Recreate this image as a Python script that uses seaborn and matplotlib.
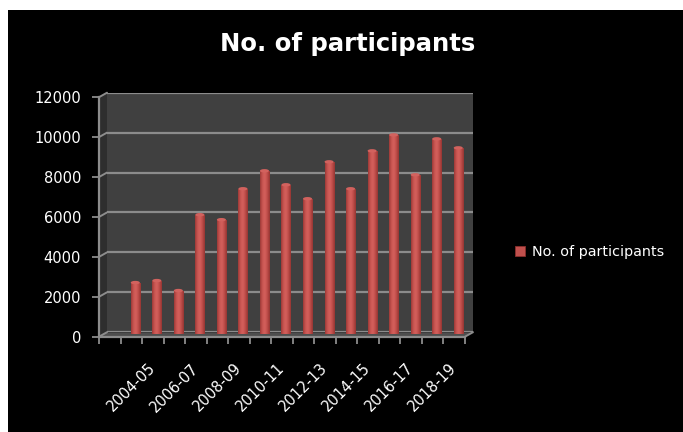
import numpy as np
import pandas as pd
import matplotlib
matplotlib.use("Agg")
import matplotlib.pyplot as plt
import seaborn as sns
from matplotlib.colors import LinearSegmentedColormap
from matplotlib.patches import Polygon, Rectangle, Patch, Ellipse
from matplotlib.lines import Line2D
from matplotlib.transforms import ScaledTranslation

# ---- data -------------------------------------------------------------
categories = [" ", "2003-04", "2004-05", "2005-06", "2006-07", "2007-08",
              "2008-09", "2009-10", "2010-11", "2011-12", "2012-13",
              "2013-14", "2014-15", "2015-16", "2016-17", "2017-18",
              "2018-19"]
years = categories[1:]
participants = [2600, 2700, 2200, 6000, 5750, 7300, 8200, 7500,
                6800, 8650, 7300, 9200, 10000, 8000, 9800, 9350]
y_ticks = [0, 2000, 4000, 6000, 8000, 10000, 12000]
series_name = "No. of participants"
title = "No. of participants"

df = pd.DataFrame({"year": years, "value": participants})

# ---- figure -----------------------------------------------------------
W, H, DPI = 683, 432, 100
sns.set_theme(style="dark")
plt.rcParams["font.family"] = ["DejaVu Sans"]
fig = plt.figure(figsize=(W / DPI, H / DPI), dpi=DPI, facecolor="black")

def fx(px):
    return px / W

def fy(py):
    return 1 - py / H

# front plane of the pseudo-3D plot box (pixels, y from top)
FL, FR, FB, FT = 99.0, 465.0, 336.7, 97.2
DX, DY = 8.0, 4.5          # depth offset of the back wall
BL, BR, BB, BT = FL + DX, FR + DX, FB - DY, FT - DY
ymax = y_ticks[-1]
grid_col = "#8c8c8c"

# back wall carrying the gridlines and the bars
ax = fig.add_axes([fx(BL), fy(BB), fx(BR - BL), (BB - BT) / H], zorder=1)
ax.set_facecolor("#404040")

sns.barplot(data=df, x="year", y="value", order=categories, ax=ax,
            color="#c0504d", width=0.42, errorbar=None, saturation=1,
            label=series_name)

# bars stand at mid-depth: shift them half the depth offset
half = ScaledTranslation(-DX / 2 / DPI, -DY / 2 / DPI, fig.dpi_scale_trans)
cyl = LinearSegmentedColormap.from_list(
    "cyl", ["#983835", "#bd4d4a", "#cf5b57", "#d3605c", "#c65350", "#b04441", "#923532"])
grad = np.linspace(0, 1, 64).reshape(1, -1)
for p in list(ax.patches):
    h = p.get_height()
    if not np.isfinite(h) or h == 0:
        continue
    p.set_transform(ax.transData + half)
    p.set_clip_on(False)
    p.set_edgecolor("none")
    x0, w = p.get_x(), p.get_width()
    im = ax.imshow(grad, extent=(x0, x0 + w, 0, h), cmap=cyl, aspect="auto",
                   transform=ax.transData + half, zorder=3, interpolation="bicubic")
    im.set_clip_box(None)
    im.set_clip_path(p)
    # rounded cap on top of the cylinder
    cap = Ellipse((x0 + w / 2, h), w, 170, facecolor="#d2625e",
                  edgecolor="none", transform=ax.transData + half,
                  zorder=3.5, clip_on=False)
    ax.add_patch(cap)

ax.set_xlim(-0.5, len(categories) - 0.5)
ax.set_ylim(0, ymax)
ax.set_yticks(y_ticks)
ax.set_xticks([])
ax.tick_params(left=False, labelleft=False, bottom=False, labelbottom=False)
ax.yaxis.grid(True, color=grid_col, linewidth=1.6)
ax.xaxis.grid(False)
ax.set_axisbelow(True)
ax.set_xlabel("")
ax.set_ylabel("")
for s in ax.spines.values():
    s.set_visible(False)
if ax.get_legend() is not None:
    ax.get_legend().remove()

# side wall and floor of the box
def yf(v):
    return FB - v / ymax * (FB - FT)

side = Polygon([(fx(FL), fy(FB)), (fx(FL), fy(FT)), (fx(BL), fy(BT)), (fx(BL), fy(BB))],
               closed=True, transform=fig.transFigure, facecolor="#2e2e2e",
               edgecolor="none", zorder=0.5)
fig.add_artist(side)
floor = Polygon([(fx(FL), fy(FB)), (fx(FR), fy(FB)), (fx(BR), fy(BB)), (fx(BL), fy(BB))],
                closed=True, transform=fig.transFigure, facecolor="#4e4e4e",
                edgecolor="none", zorder=0.5)
fig.add_artist(floor)
for v in y_ticks:
    fig.add_artist(Line2D([fx(FL), fx(BL)], [fy(yf(v)), fy(yf(v) - DY)],
                          transform=fig.transFigure, color=grid_col, lw=1.4, zorder=0.6))
fig.add_artist(Line2D([fx(FR), fx(BR)], [fy(FB), fy(BB)], transform=fig.transFigure,
                      color=grid_col, lw=1.4, zorder=0.6))

# front axes: spines, ticks and labels
axf = fig.add_axes([fx(FL), fy(FB), fx(FR - FL), (FB - FT) / H], zorder=2)
axf.patch.set_alpha(0)
axf.set_xlim(-0.5, len(categories) - 0.5)
axf.set_ylim(0, ymax)
for k in ("top", "right"):
    axf.spines[k].set_visible(False)
for k in ("left", "bottom"):
    axf.spines[k].set_color(grid_col)
    axf.spines[k].set_linewidth(1.6)
axf.grid(False)
axf.set_yticks(y_ticks)
axf.set_yticklabels([str(v) for v in y_ticks])
axf.tick_params(axis="y", colors=grid_col, labelcolor="white", length=5, width=1.3,
                pad=8, labelsize=10.5, direction="out", left=True)
axf.set_xticks(np.arange(-0.5, len(categories), 1.0))
axf.set_xticklabels([])
axf.tick_params(axis="x", which="major", colors=grid_col, length=5, width=1.3,
                direction="out", bottom=True)
label_pos = np.arange(0, len(categories), 2)
axf.set_xticks(label_pos, minor=True)
axf.set_xticklabels([categories[i].strip() for i in label_pos], minor=True,
                    rotation=45, ha="right", va="center", rotation_mode="anchor")
axf.tick_params(axis="x", which="minor", length=0, pad=21, labelsize=10.5,
                labelcolor="white", bottom=True)

# title and legend
fig.text(fx(347.5), fy(44), title, color="white", fontsize=17.5, fontweight="bold",
         ha="center", va="center")
handle = Patch(facecolor="#c0504d", edgecolor="#8a2f2c", linewidth=0.6)
fig.legend([handle], [series_name], loc="center left",
           bbox_to_anchor=(fx(502), fy(252)), frameon=False, labelcolor="white",
           fontsize=10.4, handlelength=0.7, handleheight=0.7, handletextpad=0.5)

# white margin strips along the top and left edges
fig.add_artist(Rectangle((0, fy(10)), 1, 10 / H, transform=fig.transFigure,
                         facecolor="white", edgecolor="none", zorder=10))
fig.add_artist(Rectangle((0, 0), fx(8), 1, transform=fig.transFigure,
                         facecolor="white", edgecolor="none", zorder=10))

fig.savefig("out.png", dpi=DPI, facecolor=fig.get_facecolor())
